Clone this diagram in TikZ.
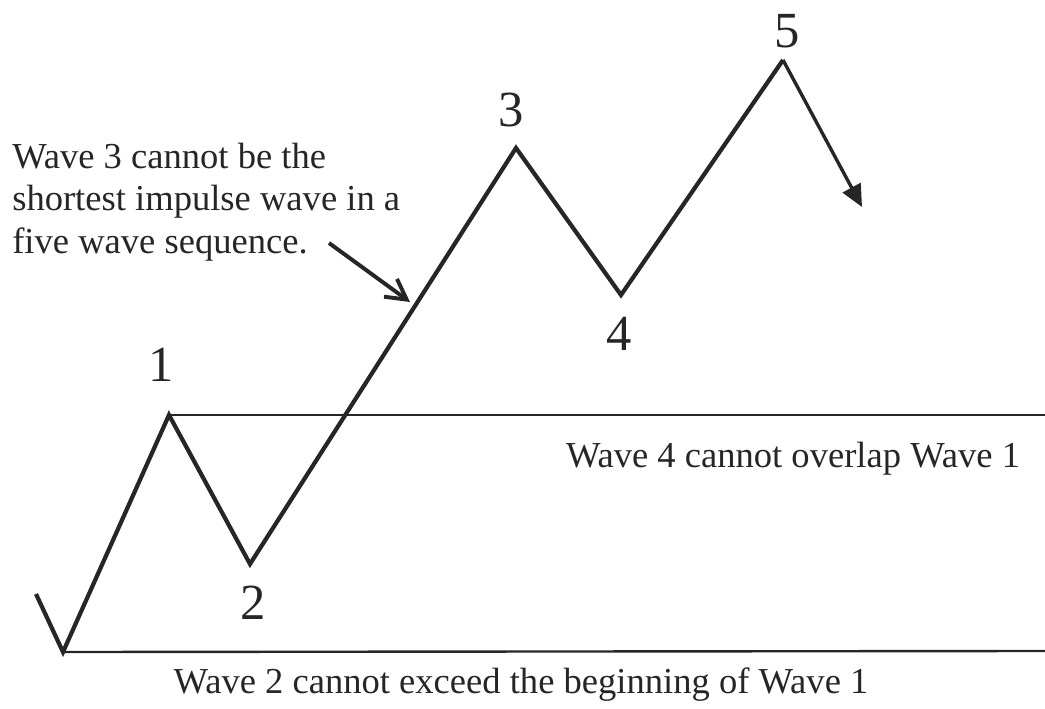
\documentclass[tikz,border=0pt]{standalone}
\usepackage{fontspec}
\setmainfont{Liberation Serif}
\usetikzlibrary{arrows.meta, positioning}
\definecolor{inkDark}{HTML}{262626}
\tikzset{
  waveLine/.style={inkDark, line width=3pt, line join=miter},
  levelLine/.style={inkDark, line width=1.7pt},
  arrowBarb/.style={-{Straight Barb[length=5mm, width=5.5mm]}, inkDark, line width=2.8pt},
  arrowTri/.style={-{Triangle[length=5.5mm, width=5mm]}, inkDark, line width=2.4pt},
  waveNum/.style={font=\fontsize{36}{36}\selectfont, inner sep=0pt, text=inkDark},
  noteText/.style={font=\fontsize{26}{30}\selectfont, inner sep=0pt, text=inkDark, align=left},
}

\begin{document}
\begin{tikzpicture}[x=0.025cm, y=-0.025cm]
    \useasboundingbox (0,0) rectangle (1045,709);
    % wave turning points
    \coordinate (w0a) at (36,594);
    \coordinate (w0) at (63,652);
    \coordinate (w1) at (169,415);
    \coordinate (w2) at (250,564);
    \coordinate (w3) at (516,148);
    \coordinate (w4) at (621,295);
    \coordinate (w5) at (783,60);
    \coordinate (w6) at (862,207);
    \coordinate (topEnd) at (1045,415);
    \coordinate (botEnd) at (1045,651);
    \draw[levelLine] (w1) -- (topEnd);
    \draw[levelLine] (w0) -- (botEnd);
    \draw[waveLine] (w0a) -- (w0) -- (w1) -- (w2) -- (w3) -- (w4) -- (w5);
    \draw[arrowTri] (w5) -- (w6);
    % labels
    \node[waveNum] (n1) at (161,365) {1};
    \node[waveNum] (n2) at (253,603) {2};
    \node[waveNum] (n3) at (511,110) {3};
    \node[waveNum] (n4) at (619,334) {4};
    \node[waveNum] (n5) at (787,31) {5};
    \node[noteText, anchor=base west] (rule3) at (12,253)
      {Wave 3 cannot be the\\shortest impulse wave in a\\five wave sequence.};
    \node[noteText, anchor=base] (rule4) at (793,467) {Wave 4 cannot overlap Wave 1};
    \node[noteText, anchor=base] (rule2) at (521,693) {Wave 2 cannot exceed the beginning of Wave 1};
    \coordinate (noteTail) at (329,243);
    \coordinate (noteTip) at (410,302);
    \draw[arrowBarb] (noteTail) -- (noteTip);
\end{tikzpicture}
\end{document}
